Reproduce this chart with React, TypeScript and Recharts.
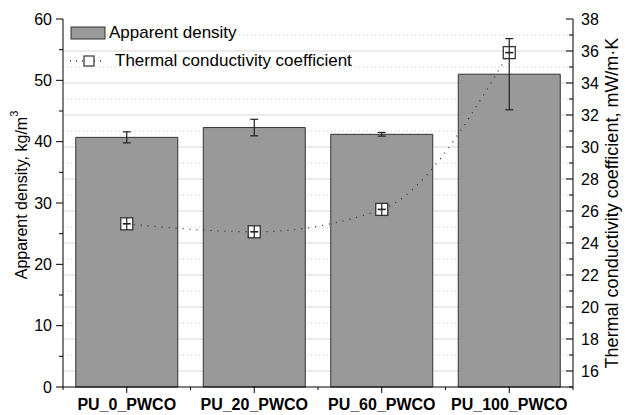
import {
  ComposedChart,
  Bar,
  Line,
  XAxis,
  YAxis,
  CartesianGrid,
  ErrorBar,
  Legend,
} from "recharts";

const categories = ["PU_0_PWCO", "PU_20_PWCO", "PU_60_PWCO", "PU_100_PWCO"];
const density = [40.7, 42.3, 41.2, 51.0];
const densityErr = [0.9, 1.35, 0.3, 5.8];
const conductivity = [25.2, 24.7, 26.1, 35.9];

const densityTicks = [0, 5, 10, 15, 20, 25, 30, 35, 40, 45, 50, 55, 60];
const conductivityTicks = [
  15, 16, 17, 18, 19, 20, 21, 22, 23, 24, 25, 26, 27, 28, 29, 30, 31, 32, 33,
  34, 35, 36, 37, 38,
];
const gridMajor = [16, 18, 20, 22, 24, 26, 28, 30, 32, 34, 36];
const gridMinor = [17, 19, 21, 23, 25, 27, 29, 31, 33, 35, 37];

const data = categories.map((name, i) => ({
  name,
  density: density[i],
  densityErr: densityErr[i],
  conductivity: conductivity[i],
}));

const FONT = "'Liberation Sans', Arial, sans-serif";

const LeftTick = ({ x, y, payload }: any) => {
  const major = payload.value % 10 === 0;
  return (
    <g>
      <line x1={x} x2={x - (major ? 7 : 4)} y1={y} y2={y} stroke="#000" />
      {major && (
        <text
          x={x - 11}
          y={y}
          textAnchor="end"
          dominantBaseline="central"
          fontSize={16}
          fontFamily={FONT}
          fill="#000"
        >
          {payload.value}
        </text>
      )}
    </g>
  );
};

const RightTick = ({ x, y, payload }: any) => {
  const major = payload.value % 2 === 0;
  return (
    <g>
      <line x1={x} x2={x - (major ? 7 : 4)} y1={y} y2={y} stroke="#000" />
      {major && (
        <text
          x={x + 8}
          y={y}
          textAnchor="start"
          dominantBaseline="central"
          fontSize={16}
          fontFamily={FONT}
          fill="#000"
        >
          {payload.value}
        </text>
      )}
    </g>
  );
};

const BottomTick = (props: any) => {
  const { x, y, payload, index, visibleTicksCount, width } = props;
  const band = (width || 510) / (visibleTicksCount || 4);
  const last = index === (visibleTicksCount || 4) - 1;
  return (
    <g>
      <line x1={x} x2={x} y1={y} y2={y + 6} stroke="#000" />
      <line x1={x - band / 2} x2={x - band / 2} y1={y} y2={y + 3} stroke="#000" />
      {last && (
        <line x1={x + band / 2} x2={x + band / 2} y1={y} y2={y + 3} stroke="#000" />
      )}
      <text
        x={x}
        y={y + 17}
        textAnchor="middle"
        dominantBaseline="central"
        fontSize={16}
        fontWeight="bold"
        fontFamily={FONT}
        fill="#000"
      >
        {payload.value}
      </text>
    </g>
  );
};

const LeftTitle = ({ viewBox }: any) => {
  const cx = viewBox.x + 21;
  const cy = viewBox.y + viewBox.height / 2 - 8;
  return (
    <text
      x={cx}
      y={cy}
      transform={`rotate(-90 ${cx} ${cy})`}
      textAnchor="middle"
      dominantBaseline="central"
      fontSize={16}
      fontFamily={FONT}
      fill="#000"
    >
      Apparent density, kg/m
      <tspan dy={-7} fontSize={11}>
        3
      </tspan>
    </text>
  );
};

const RightTitle = ({ viewBox }: any) => {
  const cx = viewBox.x + 39;
  const cy = viewBox.y + viewBox.height / 2;
  return (
    <text
      x={cx}
      y={cy}
      transform={`rotate(-90 ${cx} ${cy})`}
      textAnchor="middle"
      dominantBaseline="central"
      fontSize={18}
      fontFamily={FONT}
      fill="#000"
    >
      Thermal conductivity coefficient, mW/m·K
    </text>
  );
};

const MarkerDot = ({ cx, cy, index }: any) => {
  if (cx == null || cy == null) return <g key={index} />;
  return (
    <g key={index}>
      <rect x={cx - 6} y={cy - 6} width={12} height={12} fill="#fff" stroke="#333" strokeWidth={1.3} />
      <line x1={cx} x2={cx} y1={cy - 6} y2={cy + 6} stroke="#222" strokeWidth={1.2} />
      <line x1={cx - 4} x2={cx + 4} y1={cy} y2={cy} stroke="#222" strokeWidth={1.6} />
    </g>
  );
};

const LegendBox = () => (
  <div style={{ fontFamily: FONT, fontSize: 17, color: "#000", lineHeight: "28px" }}>
    <div style={{ display: "flex", alignItems: "center", height: 28 }}>
      <svg width={38} height={14} style={{ marginRight: 1 }}>
        <rect x={1} y={1} width={34} height={12} fill="#999" stroke="#333" strokeWidth={1} />
      </svg>
      <span>Apparent density</span>
    </div>
    <div style={{ display: "flex", alignItems: "center", height: 28 }}>
      <svg width={44} height={14} style={{ marginRight: 1 }}>
        <line x1={0} x2={36} y1={7} y2={7} stroke="#333" strokeDasharray="1 5" strokeWidth={1.3} />
        <rect x={14} y={2} width={10} height={10} fill="#fff" stroke="#333" strokeWidth={1.2} />
      </svg>
      <span>Thermal conductivity coefficient</span>
    </div>
  </div>
);

export default function App() {
  return (
    <div style={{ position: "absolute", left: 0, top: 0, background: "#fff" }}>
      <ComposedChart
        width={625}
        height={415}
        data={data}
        margin={{ top: 19, right: 0, left: 0, bottom: 0 }}
        barCategoryGap="10%"
      >
        <CartesianGrid
          yAxisId="right"
          vertical={false}
          horizontalValues={gridMajor}
          stroke="#d6d6d6"
        />
        <CartesianGrid
          yAxisId="right"
          vertical={false}
          horizontalValues={gridMinor}
          stroke="#cccccc"
          strokeDasharray="1 3"
        />
        <XAxis
          dataKey="name"
          height={28}
          tickSize={0}
          tickMargin={0}
          tickLine={false}
          interval={0}
          axisLine={{ stroke: "#000" }}
          tick={BottomTick}
        />
        <XAxis
          xAxisId="top"
          orientation="top"
          dataKey="name"
          height={0}
          tick={false}
          tickLine={false}
          axisLine={{ stroke: "#000" }}
        />
        <YAxis
          yAxisId="left"
          width={63}
          domain={[0, 60]}
          ticks={densityTicks}
          interval={0}
          tickSize={0}
          tickMargin={0}
          tickLine={false}
          axisLine={{ stroke: "#000" }}
          tick={LeftTick}
          label={<LeftTitle />}
        />
        <YAxis
          yAxisId="right"
          orientation="right"
          width={52}
          domain={[15, 38]}
          ticks={conductivityTicks}
          interval={0}
          tickSize={0}
          tickMargin={0}
          tickLine={false}
          axisLine={{ stroke: "#000" }}
          tick={RightTick}
          label={<RightTitle />}
        />
        <Legend
          layout="vertical"
          verticalAlign="middle"
          align="center"
          content={<LegendBox />}
          wrapperStyle={{ top: 19, left: 70, width: 320, height: 56 }}
        />
        <Bar
          yAxisId="left"
          dataKey="density"
          fill="#999999"
          stroke="#333"
          strokeWidth={1}
          isAnimationActive={false}
        >
          <ErrorBar dataKey="densityErr" width={4} stroke="#222" strokeWidth={1.2} direction="y" />
        </Bar>
        <Line
          yAxisId="right"
          type="monotone"
          dataKey="conductivity"
          stroke="#333"
          strokeWidth={1.3}
          strokeDasharray="1 6"
          dot={MarkerDot}
          activeDot={false}
          isAnimationActive={false}
        />
      </ComposedChart>
    </div>
  );
}
